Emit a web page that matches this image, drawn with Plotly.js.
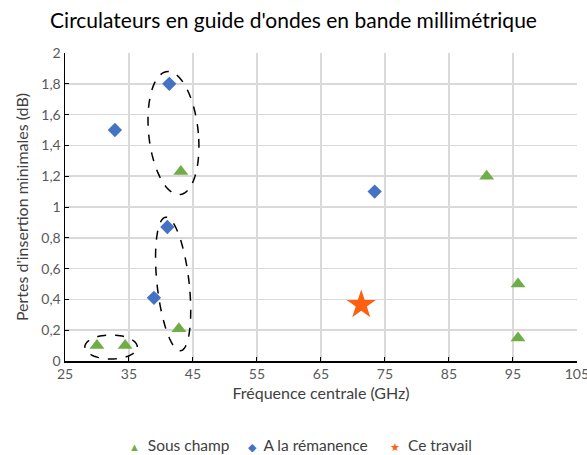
<!DOCTYPE html>
<html>
<head>
<meta charset="utf-8">
<script src="https://cdn.plot.ly/plotly-3.0.1.min.js"></script>
<style>html,body{margin:0;padding:0;background:#fff;}#chart{width:587px;height:455px;}</style>
</head>
<body>
<div id="chart"></div>
<script>
// Data
const sousChampX = [30, 34.4, 42.8, 43.1, 90.9, 95.8, 95.8];
const sousChampY = [0.1, 0.1, 0.21, 1.23, 1.2, 0.5, 0.15];
const remanenceX = [32.8, 41.3, 41.0, 38.9, 73.4];
const remanenceY = [1.5, 1.8, 0.87, 0.41, 1.1];
const ceTravailX = [71.3];
const ceTravailY = [0.365];
const seriesNames = ["Sous champ", "A la rémanence", "Ce travail"];
const xTickVals = [25, 35, 45, 55, 65, 75, 85, 95, 105];

// Highlight ellipses (centre x, centre y, half-width, half-height, shear)
const ellipseCx = [32.2, 41.95, 41.9];
const ellipseCy = [0.091, 1.48, 0.50];
const ellipseRx = [4.1, 3.89, 2.52];
const ellipseRy = [0.078, 0.40, 0.434];
const ellipseShear = [0, -0.85, -1.1];

function ellipsePath(cx, cy, rx, ry, sh) {
  const n = 72;
  let d = "";
  for (let i = 0; i <= n; i++) {
    const t = 2 * Math.PI * i / n;
    const x = cx + rx * Math.cos(t) + sh * Math.sin(t);
    const y = cy + ry * Math.sin(t);
    d += (i === 0 ? "M" : "L") + x.toFixed(4) + "," + y.toFixed(4);
  }
  return d + "Z";
}

const shapes = ellipseCx.map((cx, i) => ({
  type: "path", xref: "x", yref: "y",
  path: ellipsePath(cx, ellipseCy[i], ellipseRx[i], ellipseRy[i], ellipseShear[i]),
  line: {color: "#000", width: 1.5, dash: "dash"}
}));

const font = "Lato, 'Open Sans', sans-serif";
const colors = ["#70AD47", "#4472C4", "#FF6010"];
const legendGlyphs = ["▲", "◆", "★"];
const legendX = [0.121, 0.354, 0.631];

const traces = [
  {x: sousChampX, y: sousChampY, name: seriesNames[0], type: "scatter", mode: "markers",
   marker: {symbol: "triangle-up", size: 13, color: colors[0]}},
  {x: remanenceX, y: remanenceY, name: seriesNames[1], type: "scatter", mode: "markers",
   marker: {symbol: "diamond", size: 11, color: colors[1]}},
  {x: ceTravailX, y: ceTravailY, name: seriesNames[2], type: "scatter", mode: "markers",
   marker: {symbol: "star", size: 22, color: colors[2]}}
];

const annotations = seriesNames.map((n, i) => ({
  xref: "paper", yref: "paper", x: legendX[i], y: -0.272, xanchor: "left", yanchor: "middle",
  showarrow: false,
  text: '<span style="color:' + colors[i] + ';font-size:11px">' + legendGlyphs[i] + '</span>  ' + n,
  font: {size: 15.5, color: "#404040", family: font}
}));

const layout = {
  width: 587, height: 455,
  margin: {l: 65, r: 10, t: 53, b: 94},
  paper_bgcolor: "#fff", plot_bgcolor: "#fff",
  separators: ", ",
  font: {family: font, color: "#595959", size: 14},
  title: {text: "Circulateurs en guide d'ondes en bande millimétrique",
          font: {family: font, size: 21, color: "#000"}, x: 0.5, xanchor: "center", y: 0.955, yanchor: "middle"},
  xaxis: {range: [25, 105.02], tickmode: "array", tickvals: xTickVals, showgrid: true, gridcolor: "#d9d9d9", gridwidth: 1.5,
          zeroline: false, showline: true, linecolor: "#000", linewidth: 1.5,
          ticks: "inside", ticklen: 4, tickcolor: "#000", ticklabeloverflow: "allow",
          tickfont: {size: 14, color: "#595959"},
          title: {text: "Fréquence centrale (GHz)", font: {size: 16, color: "#404040"}, standoff: 6}},
  yaxis: {range: [0, 2], dtick: 0.2, showgrid: true, gridcolor: "#d9d9d9", gridwidth: 1.5,
          zeroline: false, showline: true, linecolor: "#000", linewidth: 1.5,
          ticks: "inside", ticklen: 4, tickcolor: "#000",
          tickfont: {size: 14, color: "#595959"},
          title: {text: "Pertes d'insertion minimales (dB)", font: {size: 16, color: "#404040"}, standoff: 8}},
  showlegend: false,
  annotations: annotations,
  shapes: shapes
};

Plotly.newPlot("chart", traces, layout, {displayModeBar: false, staticPlot: true});
</script>
</body>
</html>
